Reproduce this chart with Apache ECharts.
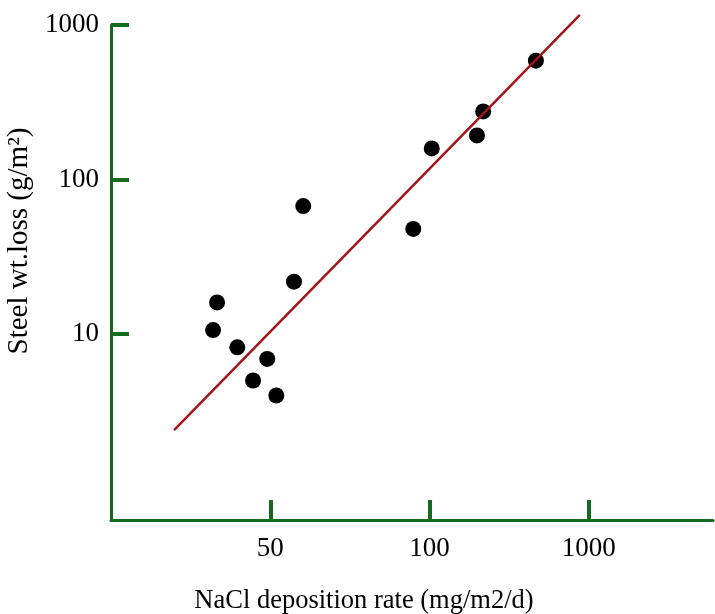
<!DOCTYPE html>
<html lang="en">
<head>
    <meta charset="UTF-8">
    <title>Steel wt.loss vs NaCl deposition rate</title>
    <script src="https://cdn.jsdelivr.net/npm/echarts@6/dist/echarts.min.js"></script>
    <style>
        html, body { margin: 0; padding: 0; background: #fff; }
        #container { width: 715px; height: 614px; }
    </style>
</head>
<body>
    <div id="container"></div>
    <script>
        // x axis: tick positions and their printed labels (as in the source figure)
        var xTickPos = [1, 2, 3];
        var xTickLabels = ['50', '100', '1000'];
        // y axis: decades shown (log10 of 10, 100, 1000)
        var yTickPos = [1, 2, 3];

        // measured points: x on the figure's tick scale, y = steel weight loss (g/m2)
        var xPos = [0.641, 0.666, 0.793, 0.892, 0.981, 1.038, 1.149, 1.207, 1.898, 2.014, 2.298, 2.337, 2.668];
        var weightLoss = [10.6, 16.0, 8.2, 5.0, 6.9, 4.0, 21.8, 67.3, 47.9, 159, 193, 276, 588];

        // fitted line end points
        var fitX = [0.396, 2.944];
        var fitY = [2.39, 1161];

        var axisGreen = '#136b1f';
        var font = 'Liberation Serif';

        var points = xPos.map(function (x, i) { return [x, Math.log10(weightLoss[i])]; });
        var fitLine = fitX.map(function (x, i) { return [x, Math.log10(fitY[i])]; });

        var myChart = echarts.init(document.getElementById('container'));
        myChart.setOption({
            backgroundColor: '#fff',
            animation: false,
            grid: { left: 111, top: 25, right: 2, bottom: 94, outerBoundsMode: 'none', containLabel: false },
            xAxis: {
                type: 'value',
                min: 0,
                max: 3.78,
                name: 'NaCl deposition rate (mg/m2/d)',
                nameLocation: 'middle',
                nameGap: 68,
                nameTextStyle: { fontFamily: font, fontSize: 26.5, color: '#000', padding: [0, 96, 0, 0] },
                axisLine: { onZero: false, lineStyle: { color: axisGreen, width: 3 } },
                axisTick: { inside: true, length: 20, customValues: xTickPos, lineStyle: { color: axisGreen, width: 4 } },
                axisLabel: {
                    customValues: xTickPos,
                    margin: 15,
                    fontFamily: font, fontSize: 27, color: '#000',
                    formatter: function (v) { return xTickLabels[Math.round(v) - 1]; }
                },
                splitLine: { show: false }
            },
            yAxis: {
                type: 'value',
                min: -0.204,
                max: 3,
                name: 'Steel wt.loss (g/m²)',
                nameLocation: 'middle',
                nameRotate: 90,
                nameGap: 74,
                nameTextStyle: { fontFamily: font, fontSize: 29, color: '#000', padding: [0, 0, 0, 63] },
                axisLine: { onZero: false, lineStyle: { color: axisGreen, width: 3 } },
                axisTick: { inside: true, length: 18, customValues: yTickPos, lineStyle: { color: axisGreen, width: 4 } },
                axisLabel: {
                    customValues: yTickPos,
                    margin: 12,
                    fontFamily: font, fontSize: 27, color: '#000',
                    formatter: function (v) { return String(Math.round(Math.pow(10, v))); }
                },
                splitLine: { show: false }
            },
            series: [
                {
                    type: 'line',
                    data: fitLine,
                    symbol: 'none',
                    clip: false,
                    lineStyle: { color: '#a51418', width: 2.5 },
                    z: 3
                },
                {
                    type: 'scatter',
                    data: points,
                    symbolSize: 16,
                    itemStyle: { color: '#000', opacity: 1 },
                    z: 2
                }
            ]
        });
    </script>
</body>
</html>
